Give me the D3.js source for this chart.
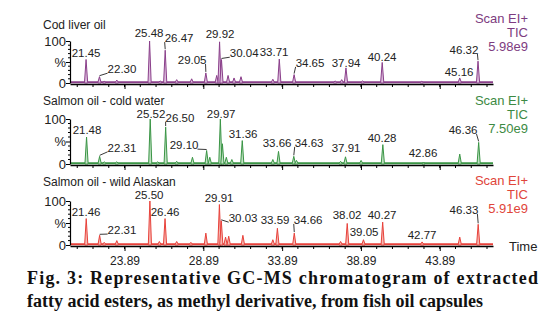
<!DOCTYPE html>
<html><head><meta charset="utf-8">
<script src="https://cdn.jsdelivr.net/npm/d3@7"></script>
<style>body{margin:0;background:#fff}svg{display:block}</style>
</head><body>
<svg id="c" width="559" height="324"></svg>
<script>
// ---------------- data ----------------
const panelTitles = ["Cod liver oil", "Salmon oil - cold water", "Salmon oil - wild Alaskan"];
const scanMode = "Scan EI+";
const scanTrace = "TIC";
const scanIntensity = ["5.98e9", "7.50e9", "5.91e9"];
const timeTicks = [23.89, 28.89, 33.89, 38.89, 43.89];
const timeDomain = [20.43, 47.27];

// [retention time (min), relative abundance (%)]
const codPeaks = [[21.45,56],[22.30,15],[22.6,4],[23.4,7],[25.48,100],[26.15,5],[26.47,78],[27.2,8],
  [28.15,10],[29.05,24],[29.74,18],[29.92,98],[30.04,56],[30.46,18],[30.84,12],[31.28,15],
  [33.3,9],[33.71,57],[34.65,20],[37.25,5],[37.67,8],[37.94,36],[39.0,5],[40.24,49],
  [42.75,4],[45.16,12],[46.32,52]];
const coldPeaks = [[21.48,60],[22.31,17],[22.6,5],[23.4,5],[25.52,100],[26.0,5],[26.50,82],[27.2,6],
  [28.2,15],[29.10,30],[29.3,15],[29.97,100],[30.1,45],[30.35,15],[30.7,10],[31.36,52],
  [33.3,10],[33.66,28],[34.63,17],[34.8,8],[37.6,6],[37.91,16],[38.9,8],[40.28,43],
  [42.86,3],[45.16,22],[46.36,48]];
const wildPeaks = [[21.46,60],[22.31,22],[22.6,6],[23.4,10],[25.50,100],[26.1,8],[26.46,60],[27.2,8],
  [28.1,6],[29.05,27],[29.91,92],[30.03,55],[30.3,18],[30.5,20],[31.4,22],
  [33.3,12],[33.59,38],[34.66,27],[37.6,8],[38.02,49],[39.05,12],[40.27,52],
  [42.77,7],[45.16,18],[46.33,47]];

// labelled peaks: [label, peak time, peak %, label centre time, label centre %, leader line?]
const codLabels = [["21.45",21.45,56,21.45,71,0],["22.30",22.30,15,23.73,33,1],["25.48",25.48,100,25.45,119,0],
  ["26.47",26.47,78,27.35,107,1],["29.05",29.05,24,28.18,55,1],["29.92",29.92,98,29.95,117,0],
  ["30.04",30.04,56,31.48,71,1],["33.71",33.71,57,33.38,74,0],["34.65",34.65,20,35.66,48,1],
  ["37.94",37.94,36,37.95,48,0],["40.24",40.24,49,40.23,62,0],["45.16",45.16,12,45.12,26,0],
  ["46.32",46.32,52,45.43,79,1]];
const coldLabels = [["21.48",21.48,60,21.51,76,0],["22.31",22.31,17,23.73,36,1],["25.52",25.52,100,25.57,111,0],
  ["26.50",26.50,82,27.41,103,1],["29.10",29.10,30,27.67,42,1],["29.97",29.97,100,30.02,111,0],
  ["31.36",31.36,52,31.41,67,0],["33.66",33.66,28,33.57,47,0],["34.63",34.63,17,35.6,47,1],
  ["37.91",37.91,16,37.95,36,0],["40.28",40.28,43,40.23,58,0],["42.86",42.86,3,42.83,24,0],
  ["46.36",46.36,48,45.37,76,1]];
const wildLabels = [["21.46",21.46,60,21.45,75,0],["22.31",22.31,22,23.73,34,1],["25.50",25.50,100,25.45,114,0],
  ["26.46",26.46,60,26.46,75,0],["29.91",29.91,92,29.89,107,0],["30.03",30.03,55,31.41,61,1],
  ["33.59",33.59,38,33.44,57,0],["34.66",34.66,27,35.54,57,1],["38.02",38.02,49,38.01,68,0],
  ["39.05",39.05,12,39.09,30,0],["40.27",40.27,52,40.23,68,0],["42.77",42.77,7,42.77,23,0],
  ["46.33",46.33,47,45.43,80,1]];

const captionLine1 = "Fig. 3: Representative GC-MS chromatogram of extracted";
const captionLine2 = "fatty acid esters, as methyl derivative, from fish oil capsules";

// ---------------- layout / style ----------------
const panels = [
  {peaks: codPeaks,  labels: codLabels,  y0: 83,  y1: 41,  titleY: 25,  infoY: 18,  stroke: "#8a3f8a", fill: "#dcbcdc", text: "#7d3c80"},
  {peaks: coldPeaks, labels: coldLabels, y0: 164, y1: 119, titleY: 101, infoY: 100, stroke: "#3a9545", fill: "#bfe0c2", text: "#3d8a43"},
  {peaks: wildPeaks, labels: wildLabels, y0: 245, y1: 201, titleY: 182, infoY: 180, stroke: "#e8413a", fill: "#f6b8b2", text: "#e0453a"}
];
const font = "'Liberation Sans', Arial, sans-serif";
const svg = d3.select("#c");
const x = d3.scaleLinear().domain(timeDomain).range([70, 493]);
const halfW = 0.1;

panels.forEach((p, i) => {
  const y = d3.scaleLinear().domain([0, 100]).range([p.y0, p.y1]);
  const g = svg.append("g");

  // title
  g.append("text").attr("x", 43).attr("y", p.titleY).attr("dy", "0.35em")
    .attr("font-family", font).attr("font-size", 12).attr("fill", "#222").text(panelTitles[i]);

  // scan info
  const info = [scanMode, scanTrace, scanIntensity[i]];
  info.forEach((t, k) => {
    g.append("text").attr("x", 528).attr("y", p.infoY + k * 14).attr("dy", "0.35em")
      .attr("text-anchor", "end").attr("font-family", font).attr("font-size", 13)
      .attr("fill", p.text).text(t);
  });

  // baseline noise
  g.append("path").datum(timeDomain)
    .attr("d", d3.line().x(d => x(d)).y(() => y(1.5)))
    .attr("stroke", p.stroke).attr("stroke-width", 2).attr("fill", "none");

  // peaks
  const area = d3.area().x(d => x(d[0])).y0(y(0)).y1(d => y(d[1]));
  p.peaks.forEach(pk => {
    const pts = [[pk[0] - halfW, 1.5], [pk[0], pk[1]], [pk[0] + halfW, 1.5]];
    g.append("path").datum(pts).attr("d", area)
      .attr("fill", p.fill).attr("stroke", p.stroke).attr("stroke-width", 1).attr("stroke-linejoin", "miter");
  });

  // x axis
  const xa = d3.axisBottom(x).tickValues(timeTicks).tickSize(5).tickSizeOuter(0)
    .tickFormat(i === 2 ? d3.format(".2f") : "");
  const xg = g.append("g").attr("transform", `translate(0,${p.y0 + 1})`).call(xa);
  const minor = d3.range(20.89, 47.3, 1).filter(v => v >= timeDomain[0] && v <= timeDomain[1]);
  xg.selectAll(".minor").data(minor).enter().append("line").attr("class", "minor")
    .attr("x1", d => x(d)).attr("x2", d => x(d)).attr("y1", 0).attr("y2", 3).attr("stroke", "#000");
  xg.select(".domain").attr("stroke", "#000").attr("stroke-width", 1.5);
  xg.selectAll("text").attr("font-family", font).attr("font-size", 12).attr("fill", "#222").attr("dy", "0.9em");

  // y axis
  const ya = d3.axisLeft(y).tickValues([0, 50, 100]).tickSize(4).tickSizeOuter(0)
    .tickFormat(d => d === 0 ? "0" : d === 100 ? "100" : "%");
  const yg = g.append("g").attr("transform", "translate(70,0)").call(ya);
  yg.selectAll(".mn").data(d3.range(10, 100, 10).filter(v => v !== 50)).enter().append("line")
    .attr("class", "mn").attr("x1", -2).attr("x2", 0).attr("y1", d => y(d)).attr("y2", d => y(d)).attr("stroke", "#000");
  yg.select(".domain").attr("stroke", "#000").attr("stroke-width", 1.2);
  yg.selectAll("text").attr("font-family", font).attr("font-size", 13).attr("fill", "#222").attr("x", -4);

  // peak labels
  p.labels.forEach(l => {
    const cx = x(l[3]), cy = y(l[4]);
    const t = g.append("text").attr("x", cx).attr("y", cy).attr("dy", "0.35em")
      .attr("text-anchor", "middle").attr("font-family", font).attr("font-size", 11.5)
      .attr("fill", "#222").text(l[0]);
    if (l[5]) {
      const bb = t.node().getBBox();
      const px = x(l[1]), py = y(l[2]) - 1;
      let sx;
      if (px < bb.x + 2) sx = bb.x;
      else if (px > bb.x + bb.width - 2) sx = bb.x + bb.width - 1;
      else sx = px;
      const sy = bb.y + bb.height - 2;
      g.append("line").attr("x1", sx).attr("y1", sy).attr("x2", px).attr("y2", py)
        .attr("stroke", "#222").attr("stroke-width", 0.9);
    }
  });

  if (i === 2) {
    g.append("text").attr("x", 509).attr("y", p.y0 + 1).attr("dy", "0.35em")
      .attr("font-family", font).attr("font-size", 13).attr("fill", "#222").text("Time");
  }
});

// caption
svg.append("text").attr("x", 27).attr("y", 284).attr("font-family", "'Liberation Serif', 'Times New Roman', serif")
  .attr("font-weight", "bold").attr("font-size", 18).attr("fill", "#111")
  .attr("textLength", 511).attr("lengthAdjust", "spacing").text(captionLine1);
svg.append("text").attr("x", 27).attr("y", 307).attr("font-family", "'Liberation Serif', 'Times New Roman', serif")
  .attr("font-weight", "bold").attr("font-size", 18).attr("fill", "#111").text(captionLine2);
</script>
</body></html>
